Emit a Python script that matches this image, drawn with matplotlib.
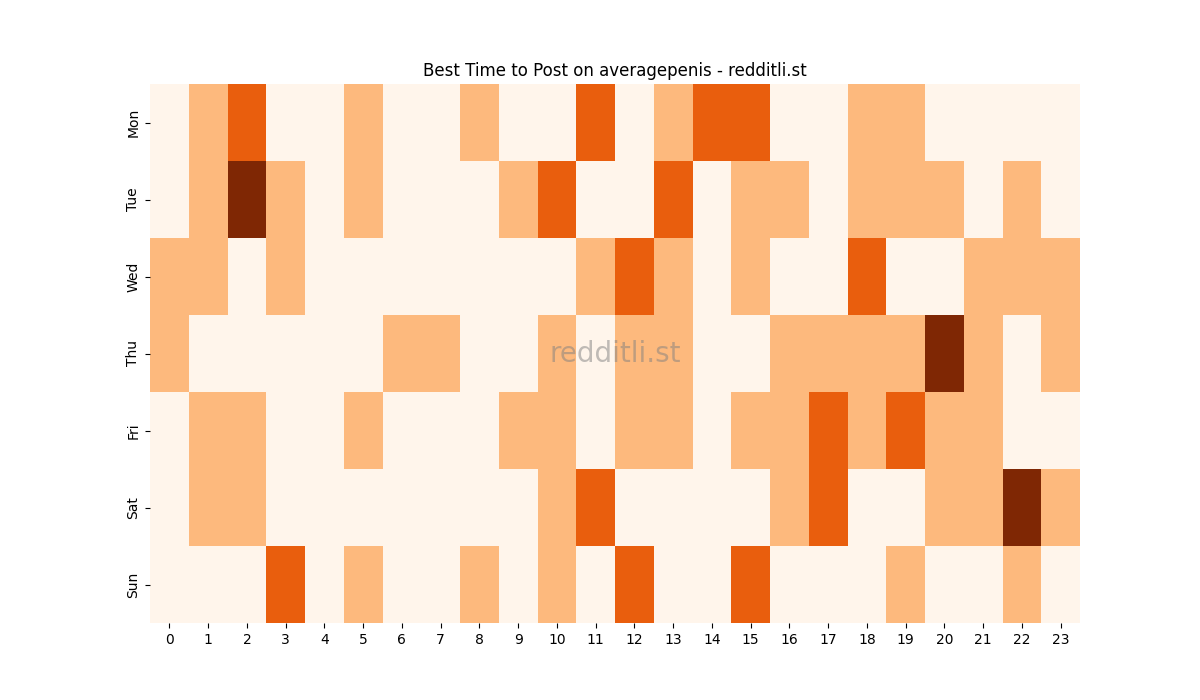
import numpy as np
import pandas as pd
import matplotlib
matplotlib.use("Agg")
import matplotlib.pyplot as plt
import seaborn as sns

days = ["Mon", "Tue", "Wed", "Thu", "Fri", "Sat", "Sun"]
hours = list(range(24))

mon = [0,1,2,0,0,1,0,0,1,0,0,2,0,1,2,2,0,0,1,1,0,0,0,0]
tue = [0,1,3,1,0,1,0,0,0,1,2,0,0,2,0,1,1,0,1,1,1,0,1,0]
wed = [1,1,0,1,0,0,0,0,0,0,0,1,2,1,0,1,0,0,2,0,0,1,1,1]
thu = [1,0,0,0,0,0,1,1,0,0,1,0,1,1,0,0,1,1,1,1,3,1,0,1]
fri = [0,1,1,0,0,1,0,0,0,1,1,0,1,1,0,1,1,2,1,2,1,1,0,0]
sat = [0,1,1,0,0,0,0,0,0,0,1,2,0,0,0,0,1,2,0,0,1,1,3,1]
sun = [0,0,0,2,0,1,0,0,1,0,1,0,2,0,0,2,0,0,0,1,0,0,1,0]

df = pd.DataFrame([mon, tue, wed, thu, fri, sat, sun], index=days, columns=hours)

fig = plt.figure(figsize=(12, 7), dpi=100)
ax = fig.add_subplot(111)
sns.heatmap(df, cmap="Oranges", vmin=0, vmax=3, cbar=False, ax=ax)
ax.set_title("Best Time to Post on averagepenis - redditli.st")
ax.set_yticklabels(days, rotation=90, va="center")
ax.set_xticklabels(hours, rotation=0)
ax.text(0.5, 0.5, "redditli.st", transform=ax.transAxes, fontsize=20,
        color="gray", alpha=0.5, ha="center", va="center")
plt.savefig("out.png")
